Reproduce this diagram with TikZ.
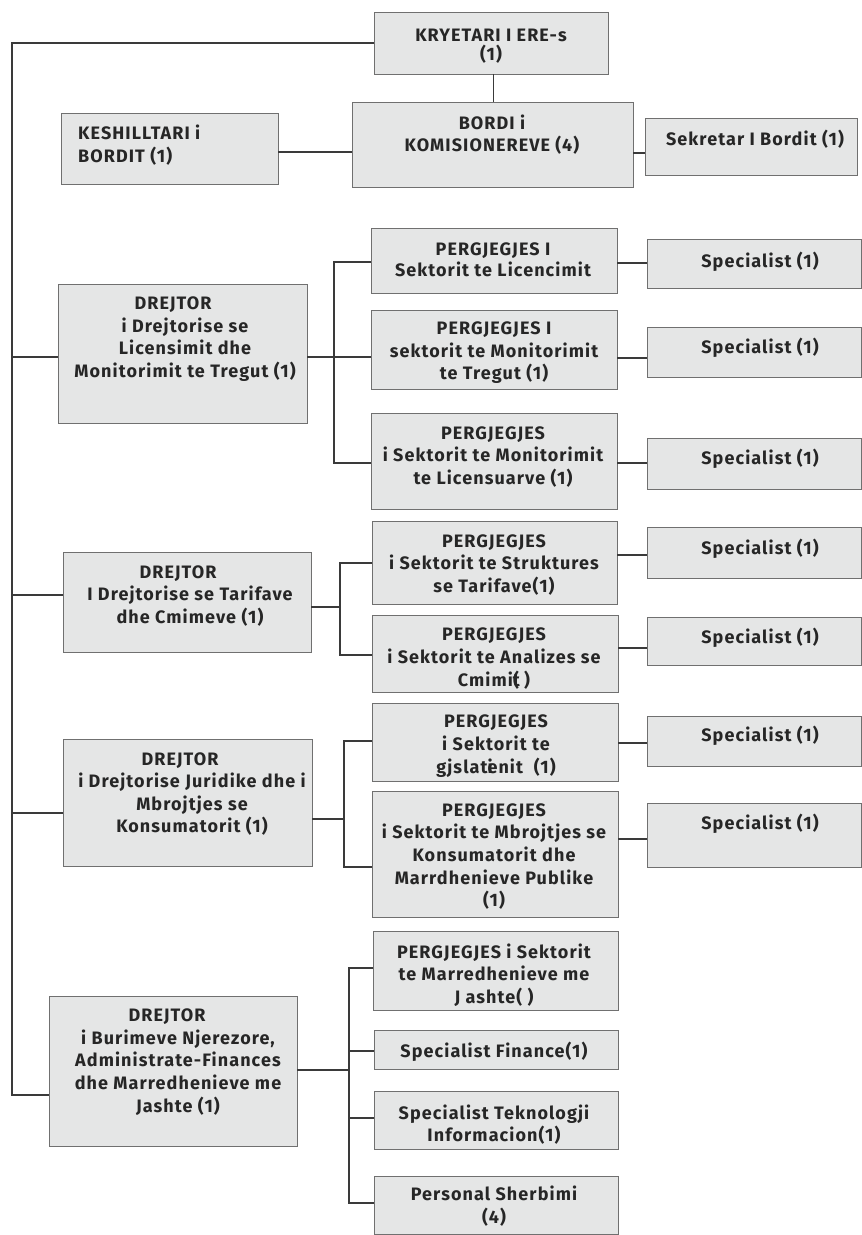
\documentclass[tikz,border=0pt]{standalone}
\usepackage{fontspec}
\setmainfont{Fira Sans}[LetterSpace=6]
\definecolor{boxfill}{HTML}{E5E6E6}
\definecolor{boxline}{HTML}{707070}
\definecolor{lnc}{HTML}{3A3A3A}
\definecolor{txt}{HTML}{262626}
\newcommand\bx[5]{\node[bx, minimum width={(#4-#2)*1pt}, minimum height={(#5-#3)*1pt}] (#1) at ({(#2+#4)/2},{(#3+#5)/2}) {};}
\tikzset{
  bx/.style={rectangle, draw=boxline, fill=boxfill, line width=0.9pt, inner sep=0pt, outer sep=0pt},
  tx/.style={text=txt, font=\fontsize{18}{22.6}\selectfont\bfseries, align=center, inner sep=0pt},
  ln/.style={draw=lnc, line width=1.4pt},
}
\begin{document}
\begin{tikzpicture}[x=1pt, y=-1pt]
\path[fill=white, use as bounding box] (0,0) rectangle (862,1235);
% boxes
\bx{kry}{374}{12}{608}{74}
\bx{bordi}{352}{102}{633}{187}
\bx{kesh}{61}{113}{278}{184}
\bx{sek}{645}{118}{857}{175}
\bx{d1}{58}{284}{307}{423}
\bx{d2}{63}{552}{311}{652}
\bx{d3}{63}{739}{312}{866}
\bx{d4}{49}{996}{297}{1146}
\bx{p1}{371}{228}{617}{293}
\bx{p2}{371}{310}{617}{389}
\bx{p3}{371}{413}{617}{509}
\bx{p4}{372}{521}{617}{604}
\bx{p5}{372}{615}{618}{692}
\bx{p6}{372}{703}{618}{781}
\bx{p7}{372}{791}{618}{917}
\bx{p8}{373}{931}{618}{1010}
\bx{sf}{374}{1030}{618}{1069}
\bx{st}{374}{1091}{618}{1149}
\bx{ps}{374}{1176}{618}{1234}
\bx{s1}{647}{239}{861}{288}
\bx{s2}{647}{327}{861}{377}
\bx{s3}{647}{438}{861}{489}
\bx{s4}{647}{527}{861}{578}
\bx{s5}{647}{617}{861}{665}
\bx{s6}{647}{716}{861}{766}
\bx{s7}{647}{803}{861}{867}
% texts
\node[tx, font=\fontsize{18}{19}\selectfont\bfseries] (kryt) at (491,46) {KRYETARI I ERE-s\\(1)};
\node[tx, font=\fontsize{18}{22}\selectfont\bfseries] (bordit) at (492,135) {BORDI i\\KOMISIONEREVE (4)};
\node[tx, align=left, anchor=west, font=\fontsize{18}{23}\selectfont\bfseries] (kesht) at (78,145.5) {KESHILLTARI i\\BORDIT (1)};
\node[tx] (sekt) at (755,139) {Sekretar I Bordit (1)};
\node[tx] (d1t) at (185,339) {DREJTOR\hspace*{24pt}\\i Drejtorise se\\Licensimit dhe\\Monitorimit te Tregut (1)};
\node[tx] (d2t) at (190,596) {DREJTOR\hspace*{24pt}\\I Drejtorise se Tarifave\\dhe Cmimeve (1)};
\node[tx] (d3t) at (192,794) {DREJTOR\hspace*{24pt}\\i Drejtorise Juridike dhe i\\Mbrojtjes se\\Konsumatorit (1)};
\node[tx] (d4t) at (178,1062) {DREJTOR\hspace*{22pt}\\i Burimeve Njerezore,\\Administrate-Finances\\dhe Marredhenieve me\\Jashte (1)};
\node[tx, font=\fontsize{18}{21}\selectfont\bfseries] (p1t) at (493,259.5) {PERGJEGJES I\\Sektorit te Licencimit};
\node[tx] (p2t) at (494,353) {PERGJEGJES I\\sektorit te Monitorimit\\te Tregut (1)};
\node[tx] (p3t) at (493,457) {PERGJEGJES\\i Sektorit te Monitorimit\\te Licensuarve (1)};
\node[tx] (p4t) at (494,565) {PERGJEGJES\\i Sektorit te Struktures\\se Tarifave(1)};
\node[tx] (p5t) at (494,658.5) {PERGJEGJES\\i Sektorit te Analizes se\\Cmimi\rlap{t}( )};
\node[tx] (p6t) at (496,746) {PERGJEGJES\\i Sektorit te\\gjslat\rlap{i}enit\ \ (1)};
\node[tx] (p7t) at (494,856.5) {PERGJEGJES\\i Sektorit te Mbrojtjes se\\Konsumatorit dhe\\Marrdhenieve Publike\\(1)};
\node[tx] (p8t) at (494,975) {PERGJEGJES i Sektorit\\te Marredhenieve me\\J ashte( )};
\node[tx] (sft) at (494,1051.5) {Specialist Finance(1)};
\node[tx] (stt) at (494,1124.5) {Specialist Teknologji\\Informacion(1)};
\node[tx] (pst) at (494,1206) {Personal Sherbimi\\(4)};
\node[tx] (s1t) at (760,262) {Specialist (1)};
\node[tx] (s2t) at (760,348) {Specialist (1)};
\node[tx] (s3t) at (760,459) {Specialist (1)};
\node[tx] (s4t) at (760,549) {Specialist (1)};
\node[tx] (s5t) at (760,638) {Specialist (1)};
\node[tx] (s6t) at (760,736) {Specialist (1)};
\node[tx] (s7t) at (760,824) {Specialist (1)};
% trunk
\coordinate (ttop) at (12,43);
\coordinate (tbot) at (12,1095);
\draw[ln] (kry.west |- 0,43) -- (ttop) -- (tbot) -- (d4.west |- tbot);
\draw[ln] (12,357) -- (d1.west |- 0,357);
\draw[ln] (12,595) -- (d2.west |- 0,595);
\draw[ln] (12,813) -- (d3.west |- 0,813);
% top group
\draw[ln, line width=1pt] (kry.south -| 493,0) -- (bordi.north -| 493,0);
\draw[ln] (kesh.east |- 0,152) -- (bordi.west |- 0,152);
\draw[ln] (bordi.east |- 0,153) -- (sek.west |- 0,153);
% branch 1
\coordinate (b1t) at (334,262);
\coordinate (b1b) at (334,463);
\draw[ln] (d1.east |- 0,357) -- (p2.west |- 0,357);
\draw[ln] (p1.west |- b1t) -- (b1t) -- (b1b) -- (p3.west |- b1b);
% branch 2
\coordinate (b2t) at (340,563);
\coordinate (b2b) at (340,655);
\draw[ln] (d2.east |- 0,607) -- (340,607);
\draw[ln] (p4.west |- b2t) -- (b2t) -- (b2b) -- (p5.west |- b2b);
% branch 3
\coordinate (b3t) at (344,741);
\coordinate (b3b) at (344,867);
\draw[ln] (d3.east |- 0,819) -- (344,819);
\draw[ln] (p6.west |- b3t) -- (b3t) -- (b3b) -- (p7.west |- b3b);
% branch 4
\coordinate (b4t) at (349,968);
\coordinate (b4b) at (349,1203);
\draw[ln] (d4.east |- 0,1070) -- (349,1070);
\draw[ln] (p8.west |- b4t) -- (b4t) -- (b4b) -- (ps.west |- b4b);
\draw[ln] (349,1051) -- (sf.west |- 0,1051);
\draw[ln] (349,1118) -- (st.west |- 0,1118);
% specialists
\draw[ln] (p1.east |- 0,263) -- (s1.west |- 0,263);
\draw[ln] (p2.east |- 0,358) -- (s2.west |- 0,358);
\draw[ln] (p3.east |- 0,463) -- (s3.west |- 0,463);
\draw[ln] (p4.east |- 0,555) -- (s4.west |- 0,555);
\draw[ln] (p5.east |- 0,648) -- (s5.west |- 0,648);
\draw[ln] (p6.east |- 0,743) -- (s6.west |- 0,743);
\draw[ln] (p7.east |- 0,839) -- (s7.west |- 0,839);
\end{tikzpicture}
\end{document}
